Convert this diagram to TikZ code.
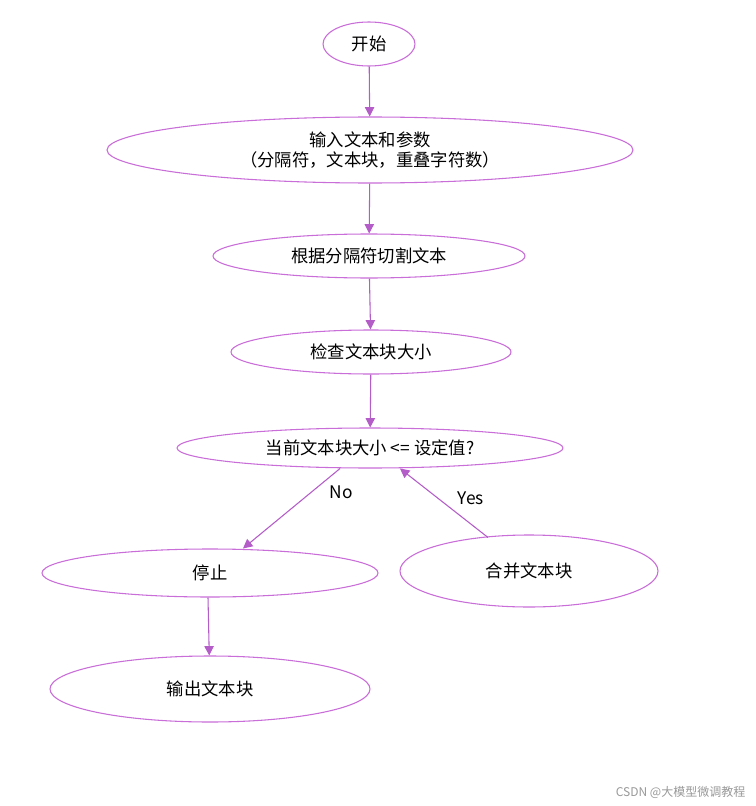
\documentclass[tikz,border=0pt]{standalone}
\usepackage{fontspec}
\setmainfont{Noto Sans CJK SC}
\usetikzlibrary{arrows.meta,shapes.geometric}
\definecolor{mLine}{HTML}{C96DD8}
\definecolor{mArrow}{HTML}{B45CC8}
\def\u{0.75pt}

\begin{document}
\begin{tikzpicture}[x=0.75pt,y=-0.75pt,
  box/.style={draw=mLine,thick,ellipse,inner sep=0pt,font=\fontsize{13pt}{15pt}\selectfont,align=center},
  flow/.style={draw=mArrow,thick,-{Triangle[length=7pt,width=7pt]}}]

\useasboundingbox[fill=white] (0,0) rectangle (756,806);

\node[box,minimum width=92*\u,minimum height=44*\u] (start) at (369,44) {开始};
\node[box,minimum width=526*\u,minimum height=66*\u] (input) at (370,150) {输入文本和参数\\（分隔符，文本块，重叠字符数）};
\node[box,minimum width=312*\u,minimum height=44*\u] (split) at (369,256) {根据分隔符切割文本};
\node[box,minimum width=280*\u,minimum height=44*\u] (check) at (371,352) {检查文本块大小};
\node[box,minimum width=386*\u,minimum height=40*\u] (cond) at (370,448) {当前文本块大小 <= 设定值?};
\node[box,minimum width=336*\u,minimum height=48*\u] (stop) at (210,573) {停止};
\node[box,minimum width=258*\u,minimum height=72*\u] (merge) at (529,571) {合并文本块};
\node[box,minimum width=320*\u,minimum height=66*\u] (output) at (210,689) {输出文本块};

\draw[flow] ([xshift=-30*\u]cond.south) -- node[pos=0.3,right=14*\u,font=\fontsize{13pt}{15pt}\selectfont] {No} ([xshift=33*\u]stop.north);
\draw[flow] (start) -- (input);
\draw[flow] (input) -- (split);
\draw[flow] (split) -- (check);
\draw[flow] (check) -- (cond);
\draw[flow] ([xshift=-41*\u,yshift=-3*\u]merge.north) -- node[pos=0.4,above right,font=\fontsize{13pt}{15pt}\selectfont] {Yes} ([xshift=30*\u]cond.south);
\draw[flow] ([xshift=-2*\u]stop.south) -- (output);

\node[text=gray!80,font=\fontsize{9pt}{11pt}\selectfont,anchor=east] (mark) at (750,792) {CSDN @大模型微调教程};
\end{tikzpicture}
\end{document}
